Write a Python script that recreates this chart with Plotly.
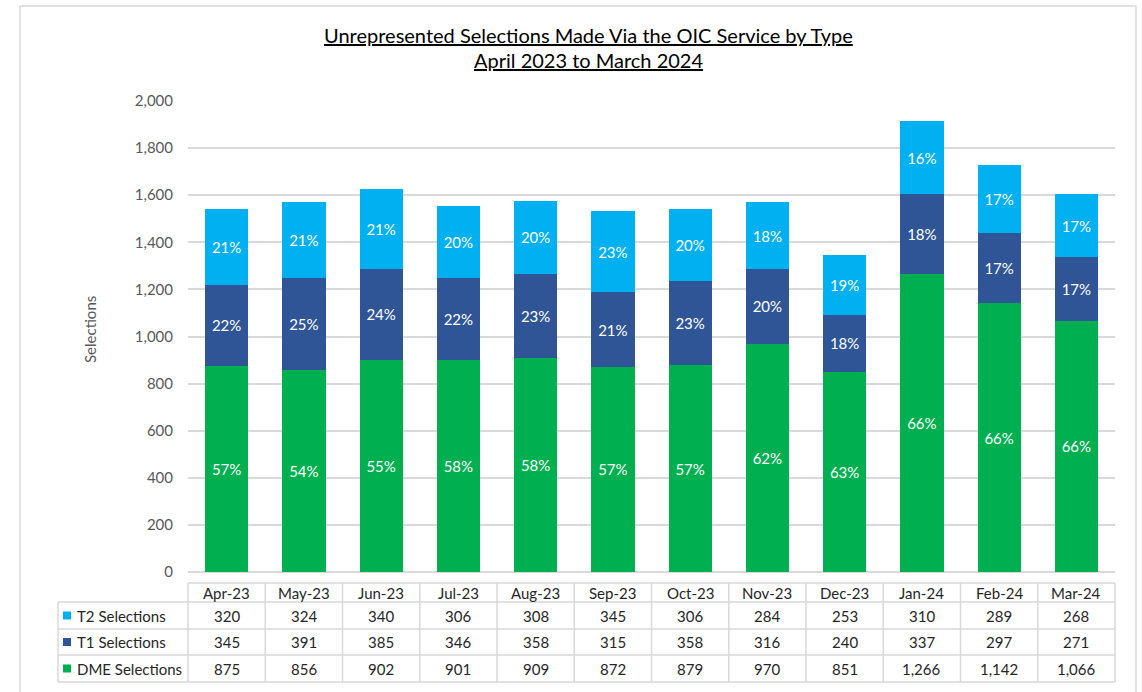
import plotly.graph_objects as go

months = ["Apr-23", "May-23", "Jun-23", "Jul-23", "Aug-23", "Sep-23",
          "Oct-23", "Nov-23", "Dec-23", "Jan-24", "Feb-24", "Mar-24"]
t2 = [320, 324, 340, 306, 308, 345, 306, 284, 253, 310, 289, 268]
t1 = [345, 391, 385, 346, 358, 315, 358, 316, 240, 337, 297, 271]
dme = [875, 856, 902, 901, 909, 872, 879, 970, 851, 1266, 1142, 1066]

series = [("DME Selections", dme, "#00B050"),
          ("T1 Selections", t1, "#2F5597"),
          ("T2 Selections", t2, "#00B0F0")]

totals = [a + b + c for a, b, c in zip(t2, t1, dme)]
FONT = "Lato"

fig = go.Figure()
for name, vals, col in series:
    pct = [f"{round(v / t * 100)}%" for v, t in zip(vals, totals)]
    fig.add_trace(go.Bar(
        x=months, y=vals, name=name, marker=dict(color=col, line=dict(width=0)),
        text=pct, textposition="inside", insidetextanchor="middle",
        textfont=dict(color="white", size=15, family=FONT),
        constraintext="none", hoverinfo="skip"))

W, H = 1142, 692
L, R, T, B = 188, 27, 101, 120
pw, ph = W - L - R, H - T - B


def px(x):
    return (x - L) / pw


def py(y):
    return (H - B - y) / ph


shapes = []
annos = []
grid = "#D9D9D9"

shapes.append(dict(type="rect", xref="paper", yref="paper",
                   x0=px(20), x1=px(1136), y0=py(720), y1=py(6),
                   line=dict(color=grid, width=1.5), layer="below"))

row_y = [583, 602, 629, 655, 682]
label_x0 = 58
n = len(months)
col_w = pw / n

shapes.append(dict(type="line", xref="paper", yref="paper", x0=0, x1=1,
                   y0=py(row_y[0]), y1=py(row_y[0]), line=dict(color=grid, width=1.5)))
for yy in row_y[1:]:
    shapes.append(dict(type="line", xref="paper", yref="paper", x0=px(label_x0), x1=1,
                       y0=py(yy), y1=py(yy), line=dict(color=grid, width=1.5)))
for i in range(n + 1):
    xx = L + i * col_w
    shapes.append(dict(type="line", xref="paper", yref="paper", x0=px(xx), x1=px(xx),
                       y0=py(row_y[0]), y1=py(row_y[-1]), line=dict(color=grid, width=1.5)))
shapes.append(dict(type="line", xref="paper", yref="paper", x0=px(label_x0), x1=px(label_x0),
                   y0=py(row_y[1]), y1=py(row_y[-1]), line=dict(color=grid, width=1.5)))

txtcol = "#262626"
for m in months:
    annos.append(dict(x=m, xref="x", y=py((row_y[0] + row_y[1]) / 2), yref="paper",
                      text=m, showarrow=False, xanchor="center", yanchor="middle",
                      font=dict(size=15, color=txtcol, family=FONT)))

table_rows = [("T2 Selections", t2, "#00B0F0"),
              ("T1 Selections", t1, "#2F5597"),
              ("DME Selections", dme, "#00B050")]
for r, (name, vals, col) in enumerate(table_rows):
    yc = (row_y[r + 1] + row_y[r + 2]) / 2
    shapes.append(dict(type="rect", xref="paper", yref="paper",
                       x0=px(63), x1=px(71), y0=py(yc + 4), y1=py(yc - 4),
                       fillcolor=col, line=dict(width=0)))
    annos.append(dict(x=px(75), xref="paper", y=py(yc), yref="paper", text=name,
                      showarrow=False, xanchor="left", yanchor="middle",
                      font=dict(size=15, color=txtcol, family=FONT)))
    for m, v in zip(months, vals):
        annos.append(dict(x=m, xref="x", y=py(yc), yref="paper", text=f"{v:,}",
                          showarrow=False, xanchor="center", yanchor="middle",
                          font=dict(size=15, color=txtcol, family=FONT)))

annos.append(dict(x=px(588), xref="paper", y=py(35), yref="paper",
                  text="<u>Unrepresented Selections Made Via the OIC Service by Type</u>",
                  showarrow=False, xanchor="center", yanchor="middle",
                  font=dict(size=20, color="black", family=FONT)))
annos.append(dict(x=px(588), xref="paper", y=py(60), yref="paper",
                  text="<u>April 2023 to March 2024</u>",
                  showarrow=False, xanchor="center", yanchor="middle",
                  font=dict(size=20, color="black", family=FONT)))
annos.append(dict(x=px(90), xref="paper", y=py(330), yref="paper", text="Selections",
                  textangle=-90, showarrow=False, xanchor="center", yanchor="middle",
                  font=dict(size=15, color="#595959", family=FONT)))

fig.update_layout(
    width=W, height=H, barmode="stack", bargap=0.44,
    margin=dict(l=L, r=R, t=T, b=B),
    plot_bgcolor="white", paper_bgcolor="white",
    showlegend=False, shapes=shapes, annotations=annos,
    font=dict(family=FONT),
    xaxis=dict(showticklabels=False, showgrid=False, zeroline=False, showline=False,
               ticks=""),
    yaxis=dict(range=[0, 2000], dtick=200, tickformat=",", showgrid=True,
               gridcolor=grid, gridwidth=1.5, zeroline=True, zerolinecolor=grid,
               zerolinewidth=1.5, showline=False, ticks="", ticklabelstandoff=14,
               tickfont=dict(size=15, color="#595959", family=FONT)),
)

fig.write_html("out.html", config={"displayModeBar": False},
               post_script="document.body.style.margin='0';document.body.style.overflow='hidden';")
